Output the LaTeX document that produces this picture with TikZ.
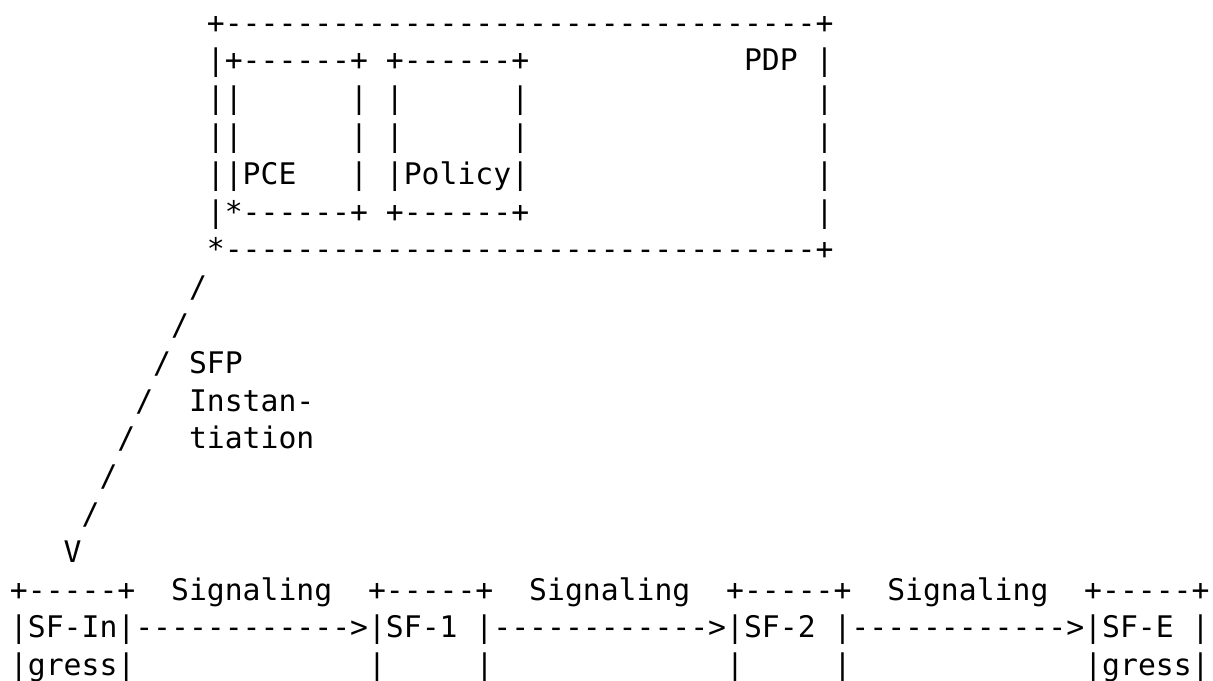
\documentclass[tikz,border=0pt]{standalone}
\usepackage{fontspec}
\setmonofont{DejaVu Sans Mono}
\newcommand\asciirow[4]{\node[asc] (#1) at ({10+17.9*#2},{33+37.8*(#3-1)}) {#4};}
\begin{document}
\begin{tikzpicture}[x=0.5pt,y=-0.5pt,
  asc/.style={anchor=base west,inner sep=0pt,outer sep=0pt,font=\ttfamily\fontsize{14.87}{18}\selectfont}]
\useasboundingbox (0,0) rectangle (1213,680);
\asciirow{r1}{11}{1}{+---------------------------------+}
\asciirow{r2}{11}{2}{|+------+~+------+~~~~~~~~~~~~PDP~|}
\asciirow{r3}{11}{3}{||~~~~~~|~|~~~~~~|~~~~~~~~~~~~~~~~|}
\asciirow{r4}{11}{4}{||~~~~~~|~|~~~~~~|~~~~~~~~~~~~~~~~|}
\asciirow{r5}{11}{5}{||PCE~~~|~|Policy|~~~~~~~~~~~~~~~~|}
\asciirow{r6}{11}{6}{|*------+~+------+~~~~~~~~~~~~~~~~|}
\asciirow{r7}{11}{7}{*---------------------------------+}
\asciirow{r8}{10}{8}{/}
\asciirow{r9}{9}{9}{/}
\asciirow{r10}{8}{10}{/~SFP}
\asciirow{r11}{7}{11}{/~~Instan-}
\asciirow{r12}{6}{12}{/~~~tiation}
\asciirow{r13}{5}{13}{/}
\asciirow{r14}{4}{14}{/}
\asciirow{r15}{3}{15}{V}
\asciirow{r16}{0}{16}{+-----+~~Signaling~~+-----+~~Signaling~~+-----+~~Signaling~~+-----+}
\asciirow{r17}{0}{17}{|SF-In|------------>|SF-1~|------------>|SF-2~|------------>|SF-E~|}
\asciirow{r18}{0}{18}{|gress|~~~~~~~~~~~~~|~~~~~|~~~~~~~~~~~~~|~~~~~|~~~~~~~~~~~~~|gress|}
\end{tikzpicture}
\end{document}
